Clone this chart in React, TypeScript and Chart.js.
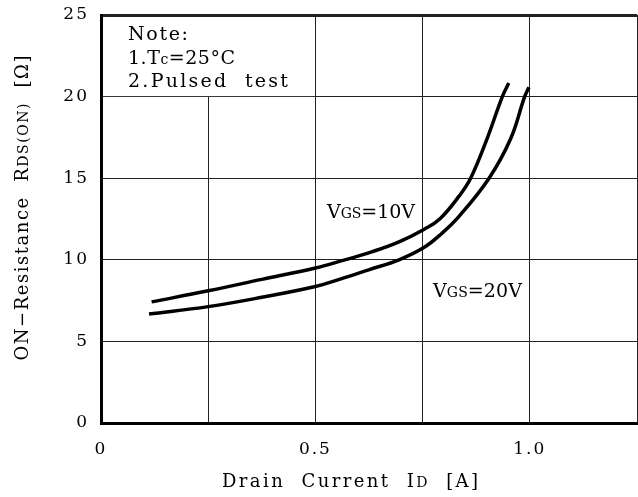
import React, { useEffect, useRef } from 'react';
import { Chart, registerables } from 'chart.js';

Chart.register(...registerables);

// ---- data ----
const vgs10Current = [0.118, 0.25, 0.375, 0.5, 0.556, 0.633, 0.695, 0.753, 0.79, 0.835, 0.862, 0.9, 0.936, 0.951];
const vgs10Resistance = [7.42, 8.1, 8.8, 9.5, 9.9, 10.5, 11.1, 11.86, 12.5, 13.9, 15.0, 17.4, 20.0, 20.83];

const vgs20Current = [0.112, 0.25, 0.375, 0.5, 0.556, 0.626, 0.695, 0.753, 0.794, 0.835, 0.905, 0.955, 0.988, 0.998];
const vgs20Resistance = [6.68, 7.13, 7.7, 8.36, 8.8, 9.4, 10.0, 10.75, 11.6, 12.66, 15.0, 17.4, 20.0, 20.57];

const xLabeledTicks = [0, 0.5, 1.0];
const xLabelTexts = ['0', '0.5', '1.0'];
const yTickValues = [0, 5, 10, 15, 20, 25];

const FONT = '"DejaVu Serif", "Liberation Serif", serif';

type Seg = [string, number];

function drawFitted(ctx: CanvasRenderingContext2D, segs: Seg[], x: number, y: number, targetW: number, align: 'left' | 'center') {
  const chars: { ch: string; size: number; w: number }[] = [];
  for (const [t, size] of segs) {
    ctx.font = `${size}px ${FONT}`;
    for (const ch of t) chars.push({ ch, size, w: ctx.measureText(ch).width });
  }
  const natural = chars.reduce((a, c) => a + c.w, 0);
  const gap = chars.length > 1 ? (targetW - natural) / (chars.length - 1) : 0;
  let cx = align === 'center' ? x - targetW / 2 : x;
  ctx.textAlign = 'left';
  ctx.textBaseline = 'alphabetic';
  ctx.fillStyle = '#000';
  for (const c of chars) {
    ctx.font = `${c.size}px ${FONT}`;
    ctx.fillText(c.ch, cx, y);
    cx += c.w + gap;
  }
}

const decorPlugin = {
  id: 'decor',
  beforeDraw(chart: any) {
    chart.ctx.letterSpacing = '2px';
  },
  beforeDatasetsDraw(chart: any) {
    const ctx = chart.ctx as CanvasRenderingContext2D;
    const xs = chart.scales.x;
    const ys = chart.scales.y;
    const x0 = xs.getPixelForValue(0);
    const x1 = xs.getPixelForValue(0.5);
    const y0 = ys.getPixelForValue(25);
    const y1 = ys.getPixelForValue(20);
    ctx.save();
    ctx.fillStyle = '#fff';
    ctx.fillRect(x0 + 2, y0 + 2, x1 - x0 - 2.5, y1 - y0 - 2.5);
    ctx.restore();
  },
  afterDraw(chart: any) {
    const ctx = chart.ctx as CanvasRenderingContext2D;
    ctx.save();
    (ctx as any).letterSpacing = '0px';
    drawFitted(ctx, [['Note:', 19]], 128, 40, 60, 'left');
    drawFitted(ctx, [['1.T', 19], ['c', 14], ['=25°C', 19]], 128, 64, 107, 'left');
    drawFitted(ctx, [['2.Pulsed  test', 19]], 128, 87, 160, 'left');
    drawFitted(ctx, [['V', 19], ['GS', 14], ['=10V', 19]], 327, 218, 88, 'left');
    drawFitted(ctx, [['V', 19], ['GS', 14], ['=20V', 19]], 433, 297, 89, 'left');
    drawFitted(ctx, [['Drain  Current  I', 18], ['D', 14], ['  [A]', 18]], 350, 487, 256, 'center');
    ctx.save();
    ctx.translate(28, 208);
    ctx.rotate(-Math.PI / 2);
    drawFitted(ctx, [['ON−Resistance  R', 18], ['DS(ON)', 14], ['  [Ω]', 18]], 0, 0, 305, 'center');
    ctx.restore();
    ctx.restore();
  },
};

export default function App() {
  const ref = useRef<HTMLCanvasElement | null>(null);
  useEffect(() => {
    if (!ref.current) return;
    const chart = new Chart(ref.current, {
      type: 'line',
      data: {
        datasets: [
          {
            label: 'VGS=10V',
            data: vgs10Current.map((x, i) => ({ x, y: vgs10Resistance[i] })),
            borderColor: '#000',
            borderWidth: 3.5,
            pointRadius: 0,
            tension: 0.4,
            fill: false,
          },
          {
            label: 'VGS=20V',
            data: vgs20Current.map((x, i) => ({ x, y: vgs20Resistance[i] })),
            borderColor: '#000',
            borderWidth: 3.5,
            pointRadius: 0,
            tension: 0.4,
            fill: false,
          },
        ],
      },
      options: {
        responsive: false,
        animation: false,
        devicePixelRatio: 1,
        layout: { autoPadding: false, padding: { top: 15, right: 1, left: 0, bottom: 0 } },
        plugins: { legend: { display: false }, tooltip: { enabled: false }, title: { display: false } },
        scales: {
          x: {
            type: 'linear',
            min: 0,
            max: 1.25,
            afterFit: (s: any) => { s.height = 74; s.paddingLeft = 0; s.paddingRight = 0; },
            border: { color: '#000', width: 3 },
            grid: { color: '#222', lineWidth: 1, drawTicks: false },
            ticks: {
              stepSize: 0.25,
              autoSkip: false,
              maxRotation: 0,
              padding: 16,
              color: '#000',
              font: { family: FONT, size: 17 },
              callback: (v: any) => {
                const i = xLabeledTicks.findIndex((t) => Math.abs(t - Number(v)) < 1e-9);
                return i >= 0 ? xLabelTexts[i] : '';
              },
            },
          },
          y: {
            type: 'linear',
            min: yTickValues[0],
            max: yTickValues[yTickValues.length - 1],
            afterFit: (s: any) => { s.width = 101; s.paddingTop = 0; s.paddingBottom = 0; },
            border: { color: '#000', width: 3 },
            grid: {
              color: '#222',
              lineWidth: (c: any) => (c.tick && c.tick.value === 25 ? 3 : 1),
              drawTicks: false,
            },
            ticks: {
              stepSize: 5,
              padding: 12,
              color: '#000',
              font: { family: FONT, size: 17 },
              callback: (v: any) => String(v),
            },
          },
        },
      },
      plugins: [decorPlugin],
    } as any);
    return () => chart.destroy();
  }, []);
  return (
    <div style={{ position: 'fixed', left: 0, top: 0, width: 638, height: 497, background: '#fff' }}>
      <canvas ref={ref} width={638} height={497} style={{ display: 'block', width: 638, height: 497 }} />
    </div>
  );
}
